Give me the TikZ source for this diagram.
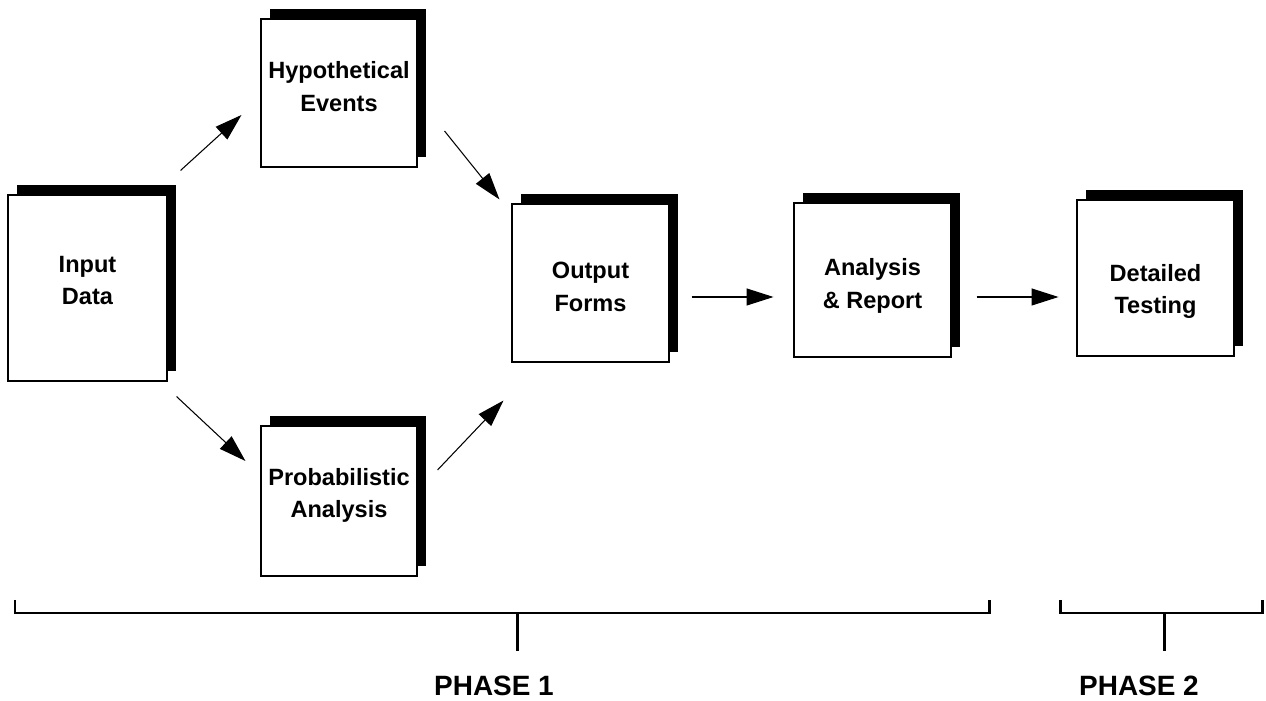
\documentclass[tikz,border=0pt]{standalone}
\usepackage{fontspec}
\setmainfont{Liberation Sans}
\usetikzlibrary{arrows.meta,shadows}

\begin{document}
\begin{tikzpicture}[
  doc/.style={draw, line width=0.6pt, fill=white, inner sep=0pt,
    drop shadow={shadow xshift=0.18cm, shadow yshift=0.19cm, fill=black, opacity=1}},
  txt/.style={align=center, inner sep=0pt, font=\bfseries\fontsize{13.4}{18.6}\selectfont},
  arr/.style={-{Triangle[length=0.54cm, width=0.34cm]}, line width=0.6pt},
  bracket/.style={line width=1.7pt},
  phase/.style={font=\bfseries\fontsize{15.9}{19}\selectfont, anchor=base}
]
\useasboundingbox (0,0) rectangle (25.32,14);

% document boxes
\node[doc, minimum width=3.18cm, minimum height=3.72cm] (input) at (1.75,8.24) {};
\node[doc, minimum width=3.12cm, minimum height=2.96cm] (hypo) at (6.78,12.14) {};
\node[doc, minimum width=3.12cm, minimum height=3.0cm] (prob) at (6.78,3.98) {};
\node[doc, minimum width=3.14cm, minimum height=3.16cm] (output) at (11.81,8.34) {};
\node[doc, minimum width=3.14cm, minimum height=3.08cm] (analysis) at (17.45,8.4) {};
\node[doc, minimum width=3.14cm, minimum height=3.12cm] (testing) at (23.11,8.44) {};

\node[txt] (input text) at ([yshift=0.15cm]input.center) {Input\\Data};
\node[txt] (hypo text) at ([yshift=0.13cm]hypo.center) {Hypothetical\\Events};
\node[txt] (prob text) at ([yshift=0.11cm]prob.center) {Probabilistic\\Analysis};
\node[txt] (output text) at ([yshift=-0.08cm]output.center) {Output\\Forms};
\node[txt] (analysis text) at ([yshift=-0.12cm]analysis.center) {Analysis\\\& Report};
\node[txt] (testing text) at ([yshift=-0.27cm]testing.center) {Detailed\\Testing};

% flow arrows
\draw[arr] ([shift={(0.26,0.48)}]input.north east) -- ([shift={(-0.38,-0.44)}]hypo.west);
\draw[arr] ([shift={(0.54,-0.76)}]hypo.east) -- ([shift={(-0.24,0.08)}]output.north west);
\draw[arr] ([shift={(0.18,-0.30)}]input.south east) -- ([shift={(-0.30,0.80)}]prob.west);
\draw[arr] ([shift={(0.40,0.62)}]prob.east) -- ([shift={(-0.16,-0.76)}]output.south west);
\draw[arr] ([shift={(0.44,-0.28)}]output.east) -- ++(1.64,0);
\draw[arr] ([shift={(0.50,-0.34)}]analysis.east) -- ++(1.64,0);

% phase brackets
\draw[bracket] (0.30,2.0) -- (0.30,1.74) -- (19.78,1.74) -- (19.78,2.0);
\draw[bracket] (10.34,1.74) -- (10.34,0.98);
\draw[bracket] (21.2,2.0) -- (21.2,1.74) -- (25.24,1.74) -- (25.24,2.0);
\draw[bracket] (23.28,1.74) -- (23.28,0.98);

\node[phase] (p1) at (9.88,0.1) {PHASE 1};
\node[phase] (p2) at (22.78,0.1) {PHASE 2};
\end{tikzpicture}
\end{document}
